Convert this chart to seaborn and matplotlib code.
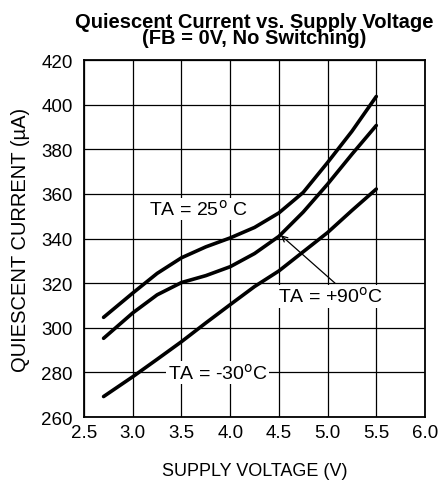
import pandas as pd
import matplotlib.pyplot as plt
import seaborn as sns

# values
voltage = [2.7, 3.0, 3.25, 3.5, 3.75, 4.0, 4.25, 4.5, 4.75, 5.0, 5.25, 5.5]
iq_25c = [304.7, 315.6, 324.4, 331.4, 336.3, 340.3, 345.0, 351.5, 360.7, 374.1, 388.1, 403.7]
iq_90c = [295.3, 306.7, 314.8, 320.3, 323.4, 327.4, 333.3, 341.0, 351.9, 364.4, 377.8, 390.7]
iq_m30c = [269.2, 278.1, 285.9, 293.8, 302.2, 310.4, 318.5, 325.5, 334.1, 342.7, 352.6, 362.2]
n = len(voltage)

df = pd.DataFrame({
    'V': voltage * 3,
    'I': iq_25c + iq_90c + iq_m30c,
    'T': ['25'] * n + ['90'] * n + ['-30'] * n,
})

sns.set_style('white')
plt.rcParams['font.family'] = ['Liberation Sans', 'DejaVu Sans']
plt.rcParams['text.color'] = 'black'
plt.rcParams['axes.labelcolor'] = 'black'

fig = plt.figure(figsize=(4.45, 4.85), dpi=100)
ax = fig.add_axes([0.189, 0.138, 0.766, 0.736])

sns.lineplot(data=df, x='V', y='I', units='T', estimator=None, color='black',
             linewidth=2.6, ax=ax, legend=False)
for line in ax.lines:
    line.set_solid_joinstyle('round')

ax.set_xlim(2.5, 6.0)
ax.set_ylim(260, 420)
ax.set_xticks([2.5, 3.0, 3.5, 4.0, 4.5, 5.0, 5.5, 6.0])
ax.set_xticklabels(['2.5', '3.0', '3.5', '4.0', '4.5', '5.0', '5.5', '6.0'])
ax.set_yticks(range(260, 421, 20))
ax.grid(True, color='black', linewidth=0.9)
ax.set_axisbelow(True)
for s in ax.spines.values():
    s.set_color('black')
    s.set_linewidth(1.3)
ax.tick_params(labelsize=13.5, length=0, colors='black')
ax.tick_params(axis='x', pad=5)
ax.tick_params(axis='y', pad=8)

ax.set_xlabel('SUPPLY VOLTAGE (V)', fontsize=13, labelpad=15, color='black')
ax.set_ylabel('QUIESCENT CURRENT (µA)', fontsize=14.5, labelpad=8, color='black')
ax.set_title('Quiescent Current vs. Supply Voltage\n(FB = 0V, No Switching)',
             fontsize=14.5, fontweight='bold', linespacing=0.85, pad=12, color='black')

box = dict(facecolor='white', edgecolor='none', pad=1)
ax.text(3.676, 353.3, 'TA = 25$^{\\rm o}$ C', fontsize=14, ha='center', va='center', bbox=box)
ax.text(3.87, 280, 'TA = -30$^{\\rm o}$C', fontsize=14, ha='center', va='center', bbox=box)
ax.text(5.026, 314.2, 'TA = +90$^{\\rm o}$C', fontsize=14, ha='center', va='center', bbox=box)
ax.annotate('', xy=(4.52, 341.5), xytext=(5.077, 320),
            arrowprops=dict(arrowstyle='->', color='black', lw=0.9, shrinkA=0, shrinkB=0))

fig.savefig('out.png', dpi=100)
